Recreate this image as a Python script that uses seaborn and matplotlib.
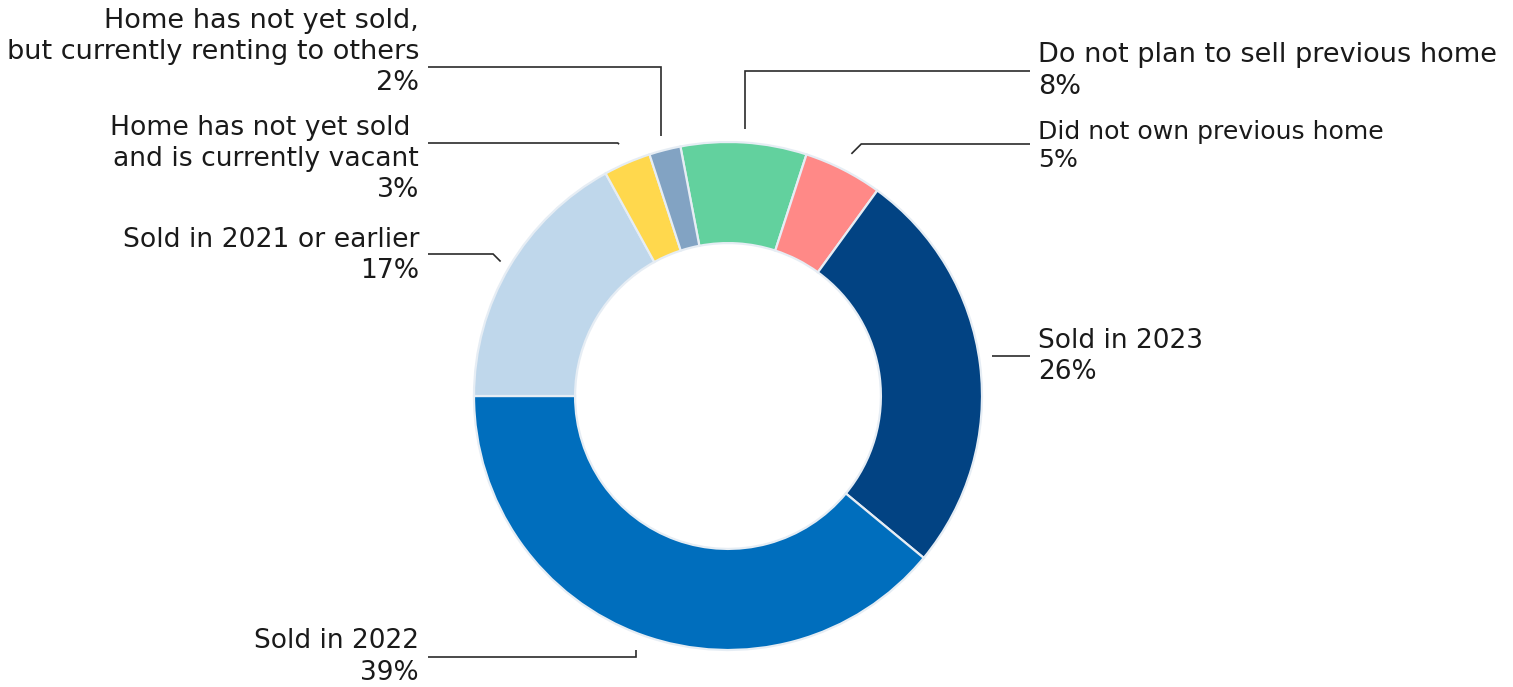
import numpy as np
import matplotlib
matplotlib.use("Agg")
import matplotlib.pyplot as plt
import seaborn as sns

# Status of buyers' previous home (share of respondents, %)
categories = [
    "Do not plan to sell previous home",
    "Did not own previous home",
    "Sold in 2023",
    "Sold in 2022",
    "Sold in 2021 or earlier",
    "Home has not yet sold \nand is currently vacant",
    "Home has not yet sold,\nbut currently renting to others",
]
shares = [8, 5, 26, 39, 17, 3, 2]
pct_labels = ["8%", "5%", "26%", "39%", "17%", "3%", "2%"]
colors = ["#62D19E", "#FF8987", "#024383", "#006EBD", "#BFD7EB", "#FFD84D", "#82A3C3"]

sns.set_theme(style="white")
plt.rcParams["font.family"] = ["DejaVu Sans"]

W, H, DPI = 1513, 687, 100
CX, CY, R = 728, 396, 254  # donut centre and outer radius in pixels

fig = plt.figure(figsize=(W / DPI, H / DPI), dpi=DPI)
ax = fig.add_axes([0, 0, 1, 1])


def px(x, y):
    """Pixel position -> data position (1 unit = outer radius)."""
    return (x - CX) / R, (CY - y) / R


wedges, _ = ax.pie(
    shares,
    colors=sns.color_palette(colors),
    startangle=100.8,
    counterclock=False,
    radius=1.0,
    center=(0, 0),
    wedgeprops=dict(width=0.398, edgecolor="#E6EDF4", linewidth=1.6),
)
ax.set_aspect("auto")
ax.set_xlim(-CX / R, (W - CX) / R)
ax.set_ylim(-(H - CY) / R, CY / R)
ax.set_axis_off()

# label layout: text anchor (px), line end (px), leader start radius, elbow style, font size
layout = [
    dict(text=(1038, 71), end=(1030, 71), r=1.055, style="vertical", ha="left", fs=19.5),
    dict(text=(1038, 146), end=(1030, 144), r=1.07, style="diag", ha="left", fs=18.1),
    dict(text=(1038, 357), end=(1030, 356), r=1.05, style="flat", ha="left", fs=19.0),
    dict(text=(419, 657), end=(428, 657), r=1.064, style="vertical", ha="right", fs=19.0),
    dict(text=(419, 256), end=(428, 254), r=1.04, style="diag", ha="right", fs=19.2),
    dict(text=(419, 159), end=(428, 143), r=1.08, style="diag", ha="right", fs=19.2),
    dict(text=(419, 52), end=(428, 67), r=1.056, style="vertical", ha="right", fs=19.5),
]

for w, cat, pct, lay in zip(wedges, categories, pct_labels, layout):
    mid = np.deg2rad((w.theta1 + w.theta2) / 2)
    ex, ey = px(*lay["end"])
    if lay["style"] == "flat":
        # start on the ring at the height of the label line
        sy = ey
        sx = np.sign(np.cos(mid)) * np.sqrt(lay["r"] ** 2 - sy ** 2)
        bx, by = sx, sy
    else:
        sx, sy = lay["r"] * np.cos(mid), lay["r"] * np.sin(mid)
        if lay["style"] == "vertical":
            bx, by = sx, ey
        else:
            d = abs(sy - ey)
            bx = sx + (d if ex > sx else -d)
            by = ey
    ax.plot([sx, bx, ex], [sy, by, ey], color="#2B2B2B", lw=1.2,
            solid_capstyle="butt", solid_joinstyle="miter")
    tx, ty = px(*lay["text"])
    ax.text(tx, ty, f"{cat}\n{pct}", ha=lay["ha"], va="center",
            fontsize=lay["fs"], color="#1A1A1A", linespacing=1.25,
            multialignment=lay["ha"])

fig.savefig("out.png", dpi=DPI, facecolor="white")
